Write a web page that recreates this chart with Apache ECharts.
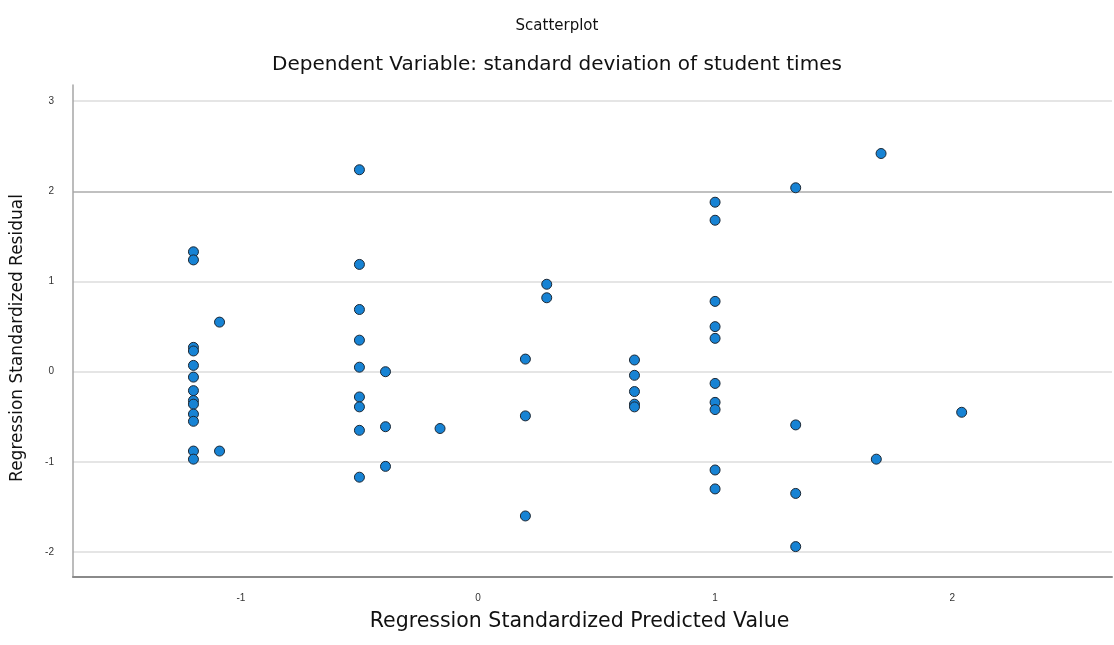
<!DOCTYPE html>
<html>
<head>
<meta charset="utf-8">
<title>Scatterplot</title>
<script src="https://cdn.jsdelivr.net/npm/echarts@6/dist/echarts.min.js"></script>
<style>
  html, body { margin: 0; padding: 0; background: #fff; }
  #chart { width: 1114px; height: 645px; }
</style>
</head>
<body>
<div id="chart"></div>
<script>
// predicted values (x) and residuals (y)
const predicted = [
  -1.20, -1.20, -1.20, -1.20, -1.20, -1.20, -1.20, -1.20, -1.20, -1.20, -1.20, -1.20, -1.20,
  -1.09, -1.09,
  -0.50, -0.50, -0.50, -0.50, -0.50, -0.50, -0.50, -0.50, -0.50,
  -0.39, -0.39, -0.39,
  -0.16,
  0.20, 0.20, 0.20,
  0.29, 0.29,
  0.66, 0.66, 0.66, 0.66, 0.66,
  1.00, 1.00, 1.00, 1.00, 1.00, 1.00, 1.00, 1.00, 1.00, 1.00,
  1.34, 1.34, 1.34, 1.34,
  1.70, 1.68,
  2.04
];
const residual = [
  1.33, 1.24, 0.27, 0.23, 0.07, -0.06, -0.21, -0.32, -0.36, -0.47, -0.55, -0.88, -0.97,
  0.55, -0.88,
  2.24, 1.19, 0.69, 0.35, 0.05, -0.28, -0.39, -0.65, -1.17,
  0.00, -0.61, -1.05,
  -0.63,
  0.14, -0.49, -1.60,
  0.97, 0.82,
  0.13, -0.04, -0.22, -0.36, -0.39,
  1.88, 1.68, 0.78, 0.50, 0.37, -0.13, -0.34, -0.42, -1.09, -1.30,
  2.04, -0.59, -1.35, -1.94,
  2.42, -0.97,
  -0.45
];
const xTicks = [-1, 0, 1, 2];
const yTicks = [-2, -1, 0, 1, 2, 3];

const points = predicted.map((x, i) => [x, residual[i]]);

const chart = echarts.init(document.getElementById('chart'));
chart.setOption({
  animation: false,
  textStyle: { fontFamily: 'DejaVu Sans, sans-serif' },
  title: [
    {
      text: 'Scatterplot',
      left: 'center', top: 14,
      textStyle: { fontSize: 15, fontWeight: 'normal', color: '#111', fontFamily: 'DejaVu Sans' }
    },
    {
      text: 'Dependent Variable: standard deviation of student times',
      left: 'center', top: 50,
      textStyle: { fontSize: 20, fontWeight: 'normal', color: '#111', fontFamily: 'DejaVu Sans' }
    }
  ],
  grid: { left: 73, right: 2, top: 85, bottom: 68 },
  xAxis: {
    type: 'value',
    min: -1.708, max: 2.674,
    name: 'Regression Standardized Predicted Value',
    nameLocation: 'middle', nameGap: 34,
    nameTextStyle: { fontSize: 20.5, color: '#111', padding: [0, 26, 0, 0] },
    axisLine: { show: true, onZero: false, lineStyle: { color: '#8a8a8a', width: 2 } },
    axisTick: { show: false, customValues: xTicks },
    axisLabel: { customValues: xTicks, fontSize: 10, color: '#333', margin: 16, fontFamily: 'Liberation Sans' },
    splitLine: { show: false }
  },
  yAxis: {
    type: 'value',
    min: -2.277, max: 3.18,
    name: 'Regression Standardized Residual',
    nameLocation: 'middle', nameGap: 47,
    nameTextStyle: { fontSize: 17, color: '#111', padding: [0, 14, 0, 0] },
    axisLine: { show: true, onZero: false, lineStyle: { color: '#a6a6a6', width: 1.5 } },
    axisTick: { show: false, customValues: yTicks },
    axisLabel: { customValues: yTicks, fontSize: 10, color: '#333', margin: 19, fontFamily: 'Liberation Sans' },
    splitLine: {
      show: true,
      lineStyle: { color: ['#dcdcdc', '#dcdcdc', '#dcdcdc', '#dcdcdc', '#ababab', '#dcdcdc'], width: 1.5 }
    }
  },
  series: [{
    type: 'scatter',
    data: points,
    symbolSize: 10,
    itemStyle: { color: '#1783d4', borderColor: '#1c2733', borderWidth: 1, opacity: 1 }
  }]
});
</script>
</body>
</html>
